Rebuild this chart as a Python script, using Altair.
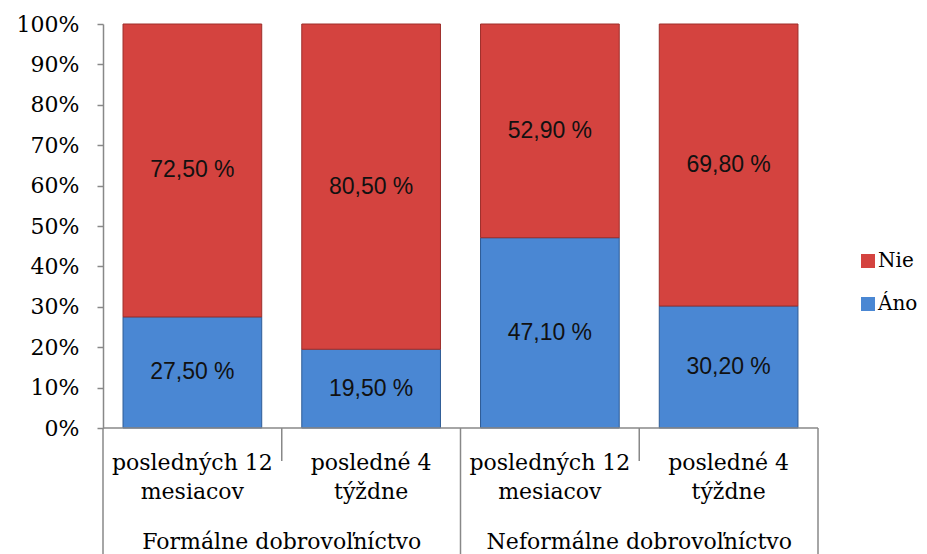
import altair as alt
import pandas as pd

groups = ["Formálne dobrovoľníctvo", "Neformálne dobrovoľníctvo"]
periods = ["posledných 12\nmesiacov", "posledné 4\ntýždne", "posledných 12\nmesiacov", "posledné 4\ntýždne"]
ano = [27.5, 19.5, 47.1, 30.2]
nie = [72.5, 80.5, 52.9, 69.8]
series = ["Nie", "Áno"]
colors = ["#D4433F", "#4A87D3"]

rows = []
for i in range(4):
    rows.append({"idx": i, "series": "Áno", "ord": 0, "value": ano[i]})
    rows.append({"idx": i, "series": "Nie", "ord": 1, "value": nie[i]})
df = pd.DataFrame(rows)

per_df = pd.DataFrame({"idx": list(range(4)), "label": periods})
grp_df = pd.DataFrame({"g": [0, 1], "label": groups})
sep_major = pd.DataFrame({"x": [0, 2, 4]})
sep_minor = pd.DataFrame({"x": [1, 3]})

xs = alt.Scale(domain=[0, 4], nice=False, zero=False)
ys = alt.Scale(domain=[0, 100], nice=False)
SERIF = "DejaVu Serif"

base = alt.Chart(df).transform_stack(
    stack="value", groupby=["idx"], as_=["y0", "y1"], sort=[alt.SortField("ord")]
).transform_calculate(
    xa="datum.idx + 0.112",
    xb="datum.idx + 0.888",
    xm="datum.idx + 0.5",
    ym="(datum.y0 + datum.y1) / 2",
    lbl="replace(format(datum.value, '.2f'), '.', ',') + ' %'",
)

bars = base.mark_bar(strokeWidth=1).encode(
    x=alt.X("xa:Q", scale=xs, axis=None),
    x2="xb:Q",
    y=alt.Y("y0:Q", scale=ys, axis=alt.Axis(
        values=list(range(0, 101, 10)), labelExpr="datum.value + '%'",
        title=None, grid=False, domainColor="#888888", tickColor="#888888",
        tickSize=6, labelFont=SERIF, labelFontSize=22, labelColor="#000000",
        labelPadding=18, domainWidth=1.5, tickWidth=1.5)),
    y2="y1:Q",
    fill=alt.Fill("series:N", scale=alt.Scale(domain=series, range=colors),
                  legend=alt.Legend(title=None, orient="none", legendX=755, legendY=227,
                                    labelFont=SERIF, labelFontSize=20,
                                    labelColor="#000000", symbolType="square",
                                    symbolSize=196, rowPadding=23, labelOffset=0,
                                    symbolStrokeWidth=0)),
    stroke=alt.Stroke("series:N", scale=alt.Scale(domain=series, range=["#9E2F2B", "#2E5C96"]),
                      legend=None),
)

labels = base.mark_text(font="Liberation Sans", fontSize=23, color="#111111").encode(
    x=alt.X("xm:Q", scale=xs), y=alt.Y("ym:Q", scale=ys), text="lbl:N"
)

baseline = alt.Chart(pd.DataFrame({"a": [0], "b": [4]})).mark_rule(color="#888888", strokeWidth=1.5).encode(
    x=alt.X("a:Q", scale=xs), x2="b:Q", y=alt.value(404)
)

major = alt.Chart(sep_major).mark_rule(color="#888888", strokeWidth=1.5).encode(
    x=alt.X("x:Q", scale=xs), y=alt.value(404), y2=alt.value(540)
)
minor = alt.Chart(sep_minor).mark_rule(color="#888888", strokeWidth=1.5).encode(
    x=alt.X("x:Q", scale=xs), y=alt.value(404), y2=alt.value(437)
)

per_text = alt.Chart(per_df).transform_calculate(xm="datum.idx + 0.5").mark_text(
    font=SERIF, fontSize=22, lineBreak="\n", lineHeight=29, baseline="top", color="#000000"
).encode(x=alt.X("xm:Q", scale=xs), y=alt.value(429), text="label:N")

grp_text = alt.Chart(grp_df).transform_calculate(xm="datum.g * 2 + 1").mark_text(
    font=SERIF, fontSize=22, baseline="top", color="#000000"
).encode(x=alt.X("xm:Q", scale=xs), y=alt.value(508), text="label:N")

chart = alt.layer(bars, labels, baseline, major, minor, per_text, grp_text).properties(
    width=715, height=404,
    autosize=alt.AutoSizeParams(type="none"),
    padding={"left": 95, "top": 16, "right": 101, "bottom": 126},
).configure_view(stroke=None)

chart.save("out.html", embed_options={"renderer": "svg", "actions": False})
